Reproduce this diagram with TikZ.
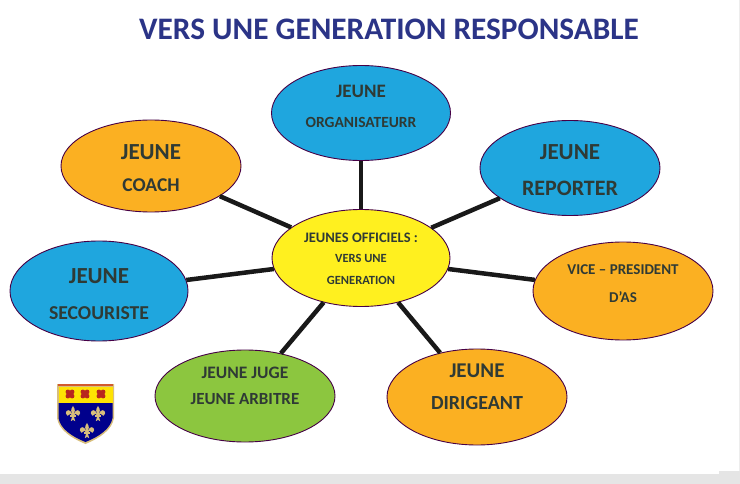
\documentclass[tikz,border=0pt]{standalone}
\usepackage{fontspec}
\setmainfont{Carlito}
\usetikzlibrary{shapes.geometric}
\definecolor{blueE}{HTML}{1FA6DE}
\definecolor{orangeE}{HTML}{FBB022}
\definecolor{greenE}{HTML}{8CC63F}
\definecolor{yellowE}{HTML}{FFF01F}
\definecolor{titleC}{HTML}{2B3487}
\definecolor{txt}{HTML}{2F3A35}
\definecolor{fleurC}{HTML}{D8BE7C}
\definecolor{roseC}{HTML}{B8261E}
\newcommand{\fs}[1]{\fontsize{#1}{#1}\selectfont}
\newcommand{\up}[2]{\raisebox{#1}[0pt][0pt]{\begin{tabular}{@{}c@{}}#2\end{tabular}}}
\tikzset{
 x=1pt,y=-1pt,
 bubble/.style={ellipse,draw=#1,line width=0.9pt,inner sep=0pt,minimum width=178pt,minimum height=94pt,align=center,text=txt,font=\bfseries},
 blueb/.style={bubble=violet!55!black,fill=blueE},
 orangeb/.style={bubble=violet!55!black,fill=orangeE},
 greenb/.style={bubble=violet!55!black,fill=greenE},
 link/.style={line width=4.5pt,black!90},
 fleur/.pic={
  \fill[#1] (0,-9) .. controls (-3,-5) and (-2,-2) .. (-1,1) -- (1,1) .. controls (2,-2) and (3,-5) .. (0,-9) -- cycle;
  \fill[#1] (-1,0) .. controls (-3,-6) and (-8,-5) .. (-8,-1) .. controls (-8,2) and (-5,3) .. (-4,1) .. controls (-5,0) and (-3,-2) .. (-1,2) -- cycle;
  \fill[#1] (1,0) .. controls (3,-6) and (8,-5) .. (8,-1) .. controls (8,2) and (5,3) .. (4,1) .. controls (5,0) and (3,-2) .. (1,2) -- cycle;
  \fill[#1] (-3,1.5) rectangle (3,3);
  \fill[#1] (-1,3) -- (1,3) -- (2.5,8) -- (0,6.5) -- (-2.5,8) -- cycle;
 },
 rosette/.pic={
  \fill[#1] (-2.2,-2.2) circle (2.5);
  \fill[#1] (2.2,-2.2) circle (2.5);
  \fill[#1] (-2.2,2.2) circle (2.5);
  \fill[#1] (2.2,2.2) circle (2.5);
  \fill[#1] (-2.5,-2.5) rectangle (2.5,2.5);
 },
}
\begin{document}
\begin{tikzpicture}
\useasboundingbox (0,0) rectangle (740,484);
\fill[white] (0,0) rectangle (740,484);
\fill[black!10] (0,474) -- (719,474) -- (719,471) -- (740,471) -- (740,484) -- (0,484) -- cycle;
\fill[black!7] (738.5,0) rectangle (740,471);

\node[text=titleC,font=\bfseries\fs{31.3}] (title) at (389,29) {VERS UNE GENERATION RESPONSABLE};

\node[blueb,minimum width=179pt,minimum height=95pt] (org) at (361,113) {\up{2.25pt}{\fs{19}JEUNE\\[16pt]\fs{15.5}ORGANISATEURR}};
\node[orangeb,minimum width=180pt,minimum height=92pt] (coach) at (151,166) {\up{-6.5pt}{\fs{23}JEUNE\\[15pt]\fs{19.5}COACH}};
\node[blueb,minimum width=180pt,minimum height=95pt] (rep) at (570,168) {\up{-6.5pt}{\fs{23}JEUNE\\[18pt]\fs{22}REPORTER}};
\node[orangeb,minimum width=180pt,minimum height=98pt] (vp) at (623,291) {\up{3pt}{\fs{15}VICE – PRESIDENT\\[14pt]\fs{15}D’AS}};
\node[blueb,minimum width=178pt,minimum height=100pt] (sec) at (99,291) {\up{-7.25pt}{\fs{23}JEUNE\\[20pt]\fs{19.7}SECOURISTE}};
\node[greenb,minimum width=180pt,minimum height=92pt] (juge) at (245,396) {\up{5.75pt}{\fs{17.5}JEUNE JUGE\\[11pt]\fs{17}JEUNE ARBITRE}};
\node[orangeb,minimum width=180pt,minimum height=96pt] (dir) at (477,397) {\up{5.75pt}{\fs{21}JEUNE\\[15pt]\fs{20}DIRIGEANT}};
\node[bubble=violet!55!black,fill=yellowE,minimum width=178pt,minimum height=97pt] (ctr) at (361,258) {\up{-5pt}{\fs{14.5}JEUNES OFFICIELS :\\[7.5pt]\fs{12.5}VERS UNE\\[10pt]\fs{12.5}GENERATION}};

\foreach \n in {org,coach,rep,vp,sec,juge,dir} \draw[link] (ctr) -- (\n);

% shield
\fill[fleurC] (57,384) -- (114,384) -- (114,418) .. controls (112,430) and (100,438) .. (85.5,444) .. controls (71,438) and (59,430) .. (57,418) -- cycle;
\fill[blue!55!black] (58.5,403) -- (112.5,403) -- (112.5,418) .. controls (110.5,429) and (99,436.5) .. (85.5,442) .. controls (72,436.5) and (60.5,429) .. (58.5,418) -- cycle;
\fill[yellow!85!orange] (58.5,386.5) rectangle (112.5,403);
\fill[brown!70!red] (58,384) rectangle (113,386);
\path (70,394) pic[scale=0.95]{rosette={roseC}} (85,394) pic[scale=0.95]{rosette={roseC}} (101,394) pic[scale=0.95]{rosette={roseC}};
\path (73,414) pic[scale=0.9]{fleur={fleurC}} (98,414) pic[scale=0.9]{fleur={fleurC}} (87,431) pic[scale=0.9]{fleur={fleurC}};
\end{tikzpicture}
\end{document}
